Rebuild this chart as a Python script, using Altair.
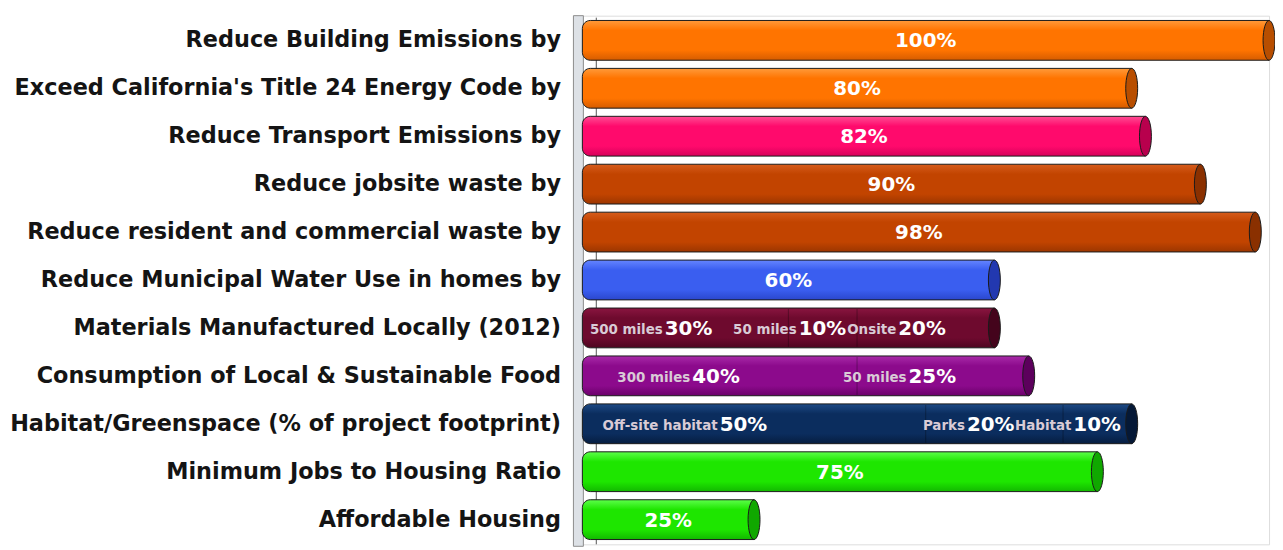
import altair as alt
import pandas as pd

# ---------------- data ----------------
categories = [
    "Reduce Building Emissions by",
    "Exceed California's Title 24 Energy Code by",
    "Reduce Transport Emissions by",
    "Reduce jobsite waste by",
    "Reduce resident and commercial waste by",
    "Reduce Municipal Water Use in homes by",
    "Materials Manufactured Locally (2012)",
    "Consumption of Local & Sustainable Food",
    "Habitat/Greenspace (% of project footprint)",
    "Minimum Jobs to Housing Ratio",
    "Affordable Housing",
]

# segments: (row index, sub-label, value %)
seg_row = [0, 1, 2, 3, 4, 5, 6, 6, 6, 7, 7, 8, 8, 8, 9, 10]
seg_label = ["", "", "", "", "", "",
             "500 miles", "50 miles", "Onsite",
             "300 miles", "50 miles",
             "Off-site habitat", "Parks", "Habitat",
             "", ""]
seg_value = [100, 80, 82, 90, 98, 60,
             30, 10, 20,
             40, 25,
             50, 20, 10,
             75, 25]

# ---------------- styles ----------------
row_palette = ["orange", "orange", "pink", "brown", "brown", "blue",
               "maroon", "purple", "navy", "green", "green"]
palettes = {
    # light top, base, dark bottom, end cap
    "orange": ("#ff9a3a", "#ff7400", "#d65c00", "#b84e00"),
    "pink":   ("#ff4d94", "#ff0a6c", "#d6005a", "#b8004d"),
    "brown":  ("#d65c1c", "#c24400", "#9c3600", "#8a3000"),
    "blue":   ("#6585ff", "#3a5ef0", "#2a46cc", "#2238b0"),
    "maroon": ("#8a1540", "#6e0a2e", "#4e0520", "#44041c"),
    "purple": ("#a82aa8", "#8c0a8c", "#6a006a", "#5c005c"),
    "navy":   ("#1d4a85", "#0b2d5e", "#061d40", "#051836"),
    "green":  ("#5cff4a", "#1ee600", "#12b800", "#10a800"),
}
FONT = "DejaVu Sans"

W, H = 691, 532

# ---------------- tables ----------------
seg = pd.DataFrame({"row": seg_row, "label": seg_label, "value": seg_value})
seg["category"] = [categories[r] for r in seg["row"]]
seg["end"] = seg.groupby("row")["value"].cumsum()
seg["start"] = seg["end"] - seg["value"]
seg["pct"] = seg["value"].astype(str) + "%"
seg["pal"] = [row_palette[r] for r in seg["row"]]
seg["mid"] = (seg["start"] + seg["end"]) / 2


def frac(start, value):
    if start == 0:
        return 0.4
    return 0.3 if value > 10 else 0.15


seg["junction"] = [s + v * frac(s, v) for s, v in zip(seg["start"], seg["value"])]

rows = seg.groupby(["row", "category", "pal"], as_index=False)["value"].sum().rename(columns={"value": "total"})
rows["zero"] = 0

single = seg[seg["label"] == ""]
multi = seg[seg["label"] != ""]
inner = seg[seg["start"] > 0]

ycat = alt.Y("category:N", sort=categories, title=None,
             scale=alt.Scale(paddingInner=0.17, paddingOuter=0.1),
             axis=alt.Axis(domain=False, ticks=False, labelPadding=22,
                           labelFont=FONT, labelFontSize=22.5,
                           labelFontWeight="bold", labelColor="#141414",
                           labelLimit=700))
xscale = alt.Scale(domain=[0, 100], nice=False, zero=True)

layers = []

# 3-D wall at the left
layers.append(
    alt.Chart(rows).mark_rect(fill="#dde1e6", stroke="#8c8c8c", strokeWidth=1).encode(
        x=alt.value(-9), x2=alt.value(1), y=alt.value(0), y2=alt.value(H + 2)
    ).transform_filter("datum.row == 0")
)
layers.append(
    alt.Chart(rows).mark_rule(color="#555555", strokeWidth=1).encode(
        x=alt.value(14), y=alt.value(2), y2=alt.value(H)
    ).transform_filter("datum.row == 0")
)

ellipse = "M0,-1A0.3,1,0,1,1,0,1A0.3,1,0,1,1,0,-1Z"

for name, (light, base, dark, cap) in palettes.items():
    grad = alt.Gradient(
        gradient="linear",
        stops=[alt.GradientStop(offset=0, color=light),
               alt.GradientStop(offset=0.25, color=base),
               alt.GradientStop(offset=0.75, color=base),
               alt.GradientStop(offset=1, color=dark)],
        x1=0, x2=0, y1=0, y2=1,
    )
    body = alt.Chart(rows).transform_filter(alt.datum.pal == name).mark_bar(
        color=grad, stroke="#1a1a1a", strokeWidth=1,
        cornerRadiusTopLeft=8, cornerRadiusBottomLeft=8,
    ).encode(
        x=alt.X("zero:Q", scale=xscale, axis=None),
        x2="total:Q",
        y=ycat,
    )
    endcap = alt.Chart(rows).transform_filter(alt.datum.pal == name).mark_point(
        shape=ellipse, size=1600, filled=True, fill=cap, stroke="#1a1a1a",
        strokeWidth=1, opacity=1,
    ).encode(
        x=alt.X("total:Q", scale=xscale, axis=None),
        y=ycat,
    )
    layers += [body, endcap]

# faint segment boundaries
layers.append(
    alt.Chart(inner).mark_tick(orient="vertical", size=38, thickness=1,
                               color="#000000", opacity=0.3).encode(
        x=alt.X("start:Q", scale=xscale, axis=None), y=ycat)
)

# value labels, single bars
layers.append(
    alt.Chart(single).mark_text(font=FONT, fontSize=20, fontWeight="bold",
                                color="white", align="center", baseline="middle", dy=1).encode(
        x=alt.X("mid:Q", scale=xscale, axis=None), y=ycat, text="pct:N")
)
# segment sub-labels
layers.append(
    alt.Chart(multi).mark_text(font=FONT, fontSize=13.5, fontWeight="bold",
                               color="#d9cbd6", align="right", baseline="middle", dx=-2, dy=2).encode(
        x=alt.X("junction:Q", scale=xscale, axis=None), y=ycat, text="label:N")
)
layers.append(
    alt.Chart(multi).mark_text(font=FONT, fontSize=20, fontWeight="bold",
                               color="white", align="left", baseline="middle", dy=1).encode(
        x=alt.X("junction:Q", scale=xscale, axis=None), y=ycat, text="pct:N")
)

chart = alt.layer(*layers).properties(
    width=W, height=H,
    autosize=alt.AutoSizeParams(type="none"),
    padding={"left": 578, "top": 6, "right": 6, "bottom": 4},
).configure_view(stroke=None).configure(background="white")

chart.save("out.html", embed_options={"renderer": "svg", "actions": False})
